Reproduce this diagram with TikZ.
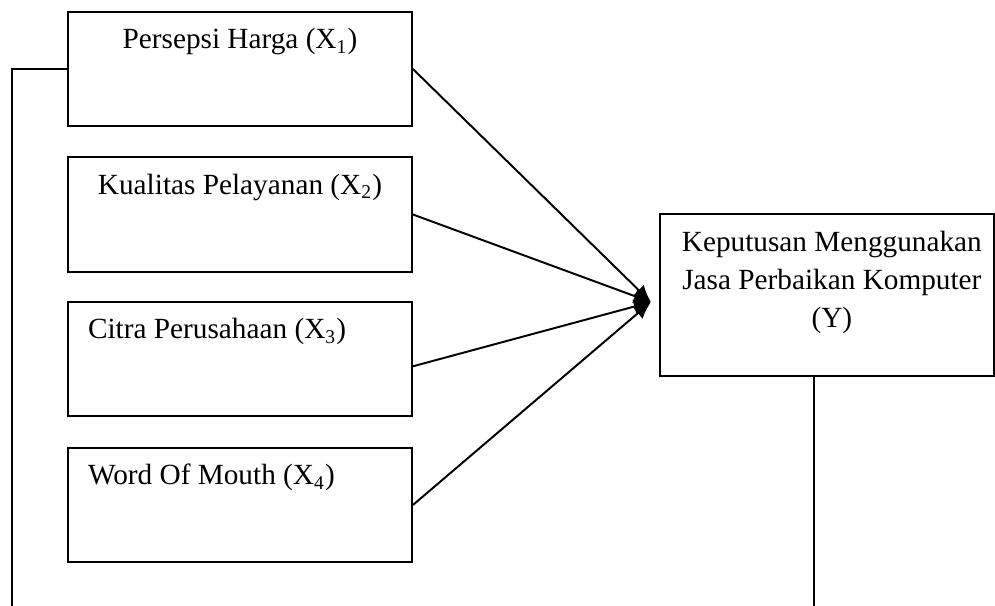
\documentclass[tikz,border=0pt]{standalone}
\usepackage{fontspec}
\setmainfont{Liberation Serif}
\usetikzlibrary{arrows.meta}

\begin{document}
\begin{tikzpicture}[x=0.41pt,y=-0.41pt,>/.tip={Latex[length=7pt,width=6pt]},line width=0.8pt,
  box/.style={draw,shape=rectangle,inner sep=0pt,minimum width=141pt,minimum height=46.8pt},
  lbl/.style={anchor=base,inner sep=0pt,font=\fontsize{12}{15.6}\selectfont}]
\useasboundingbox (0,0) rectangle (995,606);
\draw (240,69)    node (x1) [box] {};
\draw (240,214.5) node (x2) [box] {};
\draw (240,359)   node (x3) [box] {};
\draw (240,505)   node (x4) [box] {};
\draw (827,295)   node (y)  [box,minimum width=137pt,minimum height=66.4pt] {};

\node [lbl] at ([yshift=-15.6pt]x1.north) {Persepsi Harga (X\textsubscript{1})};
\node [lbl] at ([yshift=-15.6pt]x2.north) {Kualitas Pelayanan (X\textsubscript{2})};
\node [lbl,anchor=base west] at ([xshift=8.2pt,yshift=-15.6pt]x3.north west) {Citra Perusahaan (X\textsubscript{3})};
\node [lbl,anchor=base west] at ([xshift=8.2pt,yshift=-15.6pt]x4.north west) {Word Of Mouth (X\textsubscript{4})};
\node [lbl,align=center] at ([xshift=2pt,yshift=-46.8pt]y.north) {Keputusan Menggunakan\\Jasa Perbaikan Komputer\\(Y)};

\coordinate (tip) at ([xshift=-3.3pt,yshift=-2.9pt]y.west);
\coordinate (lb) at (12,606);
\coordinate (rb) at (814,606);

\draw[->] (x1.east) -- (tip);
\draw[->] (x2.east) -- (tip);
\draw[->] ([yshift=-3pt]x3.east) -- (tip);
\draw[->] (x4.east) -- (tip);

\draw (x1.west) -| (lb);
\draw (y.south -| rb) -- (rb);

\end{tikzpicture}
\end{document}
